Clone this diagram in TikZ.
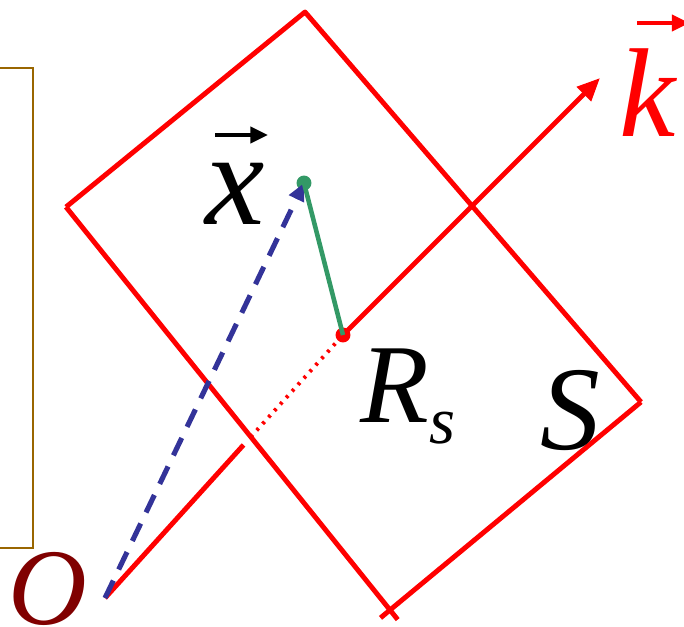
\documentclass[tikz,border=0pt]{standalone}
\usepackage{fontspec}
\setmainfont{Liberation Serif}
\usepackage{tikz}
\usetikzlibrary{calc, positioning, arrows.meta}

\definecolor{planered}{RGB}{255,0,0}
\definecolor{dashblue}{RGB}{51,51,153}
\definecolor{perpgreen}{RGB}{51,153,102}
\definecolor{origred}{RGB}{128,0,0}
\definecolor{boxbrown}{RGB}{153,102,0}

\begin{document}
\begin{tikzpicture}[
      redline/.style ={draw=planered, line width=2.8pt},
      dotline/.style ={draw=planered, line width=2.2pt, dash pattern=on 1.6pt off 3.4pt},
      greenline/.style={draw=perpgreen, line width=2.6pt},
      blueline/.style={draw=dashblue, line width=2.9pt, dash pattern=on 11pt off 7pt},
      vecarrow/.style={line width=2.4pt, -{Triangle[length=10pt, width=9pt]}},
      pt/.style={circle, inner sep=0pt, minimum size=8.5pt},
      bigletter/.style={inner sep=0pt, font=\itshape\fontsize{68}{68}\selectfont}
    ]
    \useasboundingbox (0,0) rectangle (13.68,-12.52);

    % Rahmen links (abgeschnitten)
    \draw[boxbrown, line width=1.5pt] (-0.5,-1.36) rectangle (0.66,-10.96);

    % Ebene S
    \coordinate (sT) at (6.10,-0.24);
    \coordinate (sR) at (12.82,-8.04);
    \coordinate (sB) at (7.80,-12.20);
    \coordinate (sL) at (1.32,-4.14);
    \draw[redline, line join=round] (sL) -- (sT) -- (sR);
    \draw[redline, shorten >=-7pt] (sL) -- (sB);
    \draw[redline, shorten >=-7pt] (sR) -- (sB);

    % Punkte
    \coordinate (o) at (2.10,-11.96);
    \node[pt, fill=perpgreen] (x) at (6.08,-3.66) {};
    \node[pt, fill=planered]  (r) at (6.86,-6.70) {};
    \coordinate (ktip) at (12.00,-1.56);
    \coordinate (hide) at ($(o)!0.6127!(r.center)$);

    % k-Achse: sichtbar, verdeckt, sichtbar
    \draw[redline] (o) -- ($(o)!0.95!(hide)$);
    \draw[dotline] (hide) -- (r.center);
    \draw[redline, -{Triangle[length=13pt, width=11pt]}] (r.center) -- (ktip);

    % Ortsvektor und Lot
    \draw[blueline, -{Triangle[length=10pt, width=9pt]}] (o) -- (x.center);
    \draw[greenline] (x.center) -- (r.center);

    % Beschriftungen
    \node[bigletter, font=\itshape\fontsize{76}{76}\selectfont] (xlab) at (4.70,-3.88) {x};
    \draw[vecarrow] ($(xlab.center)+(-0.40,1.18)$) -- ++(1.06,0);
    \node[bigletter, text=planered, font=\itshape\fontsize{72}{72}\selectfont] (klab) at (12.96,-1.86) {k};
    \draw[vecarrow, planered, line width=2.8pt] ($(klab.center)+(-0.22,1.40)$) -- ++(1.05,0);
    \node[bigletter, text=origred, font=\itshape\fontsize{62}{62}\selectfont] (olab) at (0.96,-11.78) {O};
    \node[bigletter] (slab) at (11.40,-8.22) {S};
    \node[bigletter, anchor=base west, font=\itshape\fontsize{64}{64}\selectfont] (rlab) at (7.20,-8.44) {R\raisebox{-12pt}{\fontsize{38}{38}\selectfont s}};
\end{tikzpicture}
\end{document}
